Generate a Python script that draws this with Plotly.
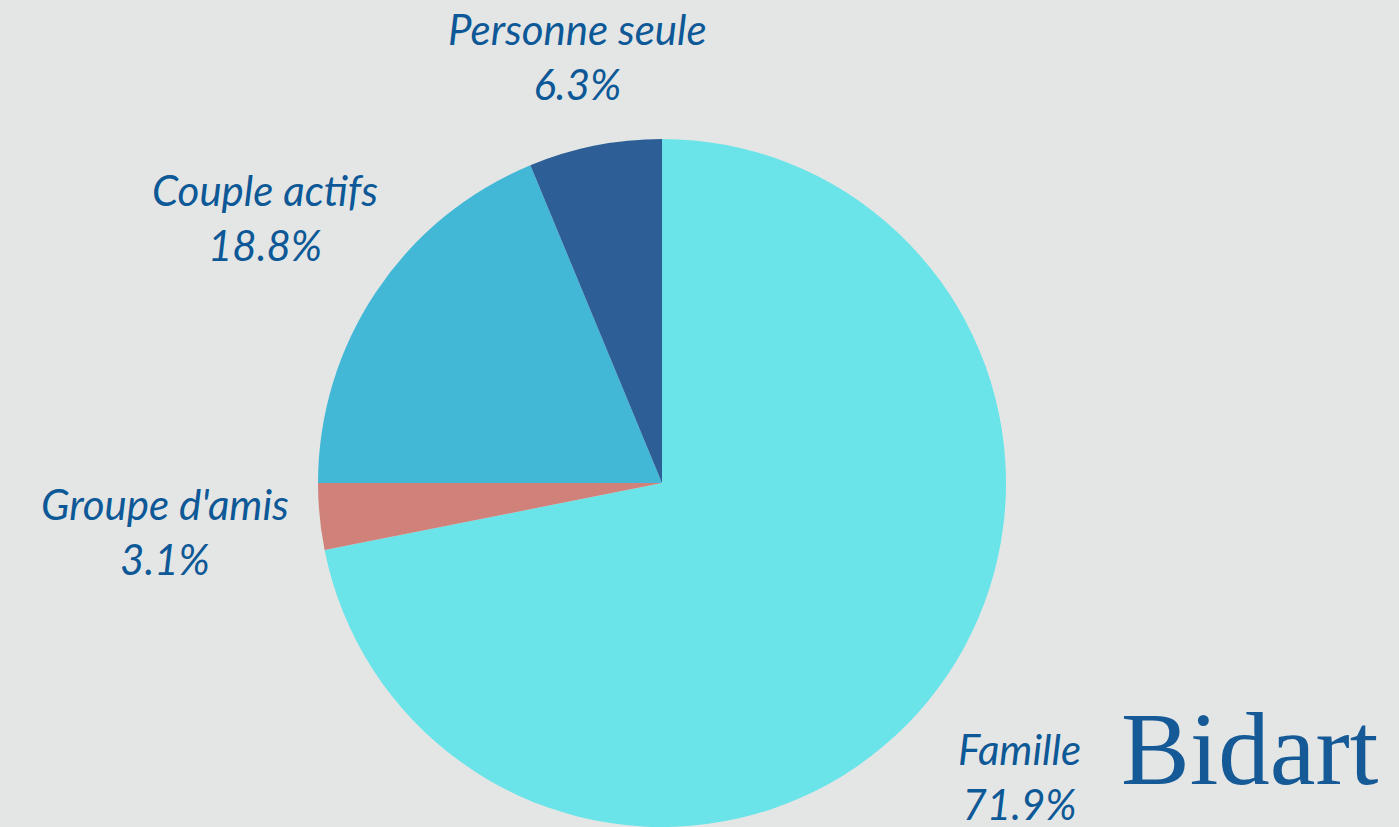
import math
import plotly.graph_objects as go

categories = ["Famille", "Groupe d'amis", "Couple actifs", "Personne seule"]
counts = [23, 1, 6, 2]
colors = ["#6ae4e8", "#d0817a", "#42b7d6", "#2d5f96"]
logo_text = "Bidart"

text_color = "#0d5896"
W, H = 1399, 827
TOP = 139
DOM_X = [0, 0.9464]
LABEL_SIZE = 42
CHAR_W = 0.44 * LABEL_SIZE
PAD = 35

fig = go.Figure()
fig.add_trace(go.Pie(
    labels=categories,
    values=counts,
    sort=False,
    direction="clockwise",
    rotation=0,
    automargin=False,
    marker=dict(colors=colors, line=dict(width=0)),
    textinfo="none",
    showlegend=False,
    hoverinfo="skip",
    domain=dict(x=DOM_X, y=[0, 1]),
))

# Outside data labels placed along each slice's mid-angle (like an "end"-aligned datalabel)
plot_h = H - TOP
r = min(W * (DOM_X[1] - DOM_X[0]), plot_h) / 2
cx = W * (DOM_X[0] + DOM_X[1]) / 2
cy = TOP + plot_h / 2
total = sum(counts)
cum = 0
for lab, v in zip(categories, counts):
    mid = (cum + v / 2) / total * 2 * math.pi
    cum += v
    pct_val = math.floor(1000 * v / total + 0.5) / 10  # round half up
    pct = f"{pct_val:.1f}%"
    vx, vy = math.sin(mid), -math.cos(mid)
    hw = 0.5 * CHAR_W * max(len(lab), len(pct))
    hh = 0.5 * 2 * 1.3 * LABEL_SIZE
    ext = min(hw / abs(vx) if abs(vx) > 1e-6 else 1e9, hh / abs(vy) if abs(vy) > 1e-6 else 1e9)
    d = r + PAD + ext
    px, py = cx + vx * d, cy + vy * d
    fig.add_annotation(
        text=f"{lab}<br>{pct}",
        xref="paper", yref="paper",
        x=px / W, y=(H - py) / plot_h,
        xanchor="center", yanchor="middle",
        showarrow=False,
        font=dict(family="Lato", size=LABEL_SIZE, color=text_color, style="italic"),
    )

fig.add_annotation(
    text=logo_text,
    xref="paper", yref="paper",
    x=1250 / W, y=(H - 749) / plot_h,
    showarrow=False,
    font=dict(family="Liberation Serif", size=103, color="#155a96"),
    xanchor="center", yanchor="middle",
)

fig.update_layout(
    width=W, height=H,
    autosize=False,
    paper_bgcolor="#e4e6e5",
    plot_bgcolor="#e4e6e5",
    margin=dict(l=0, r=0, t=TOP, b=0, autoexpand=False),
)

fig.write_html(
    "out.html",
    config={"displayModeBar": False},
    post_script="document.body.style.margin='0';document.body.style.background='#e4e6e5';",
)
